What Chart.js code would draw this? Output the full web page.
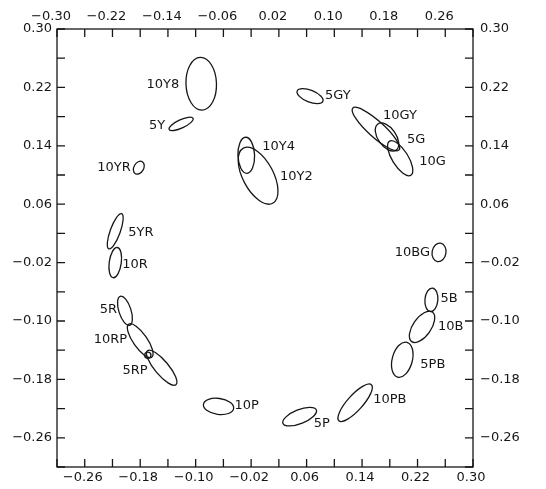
<!DOCTYPE html>
<html>
<head>
<meta charset="utf-8">
<script src="https://cdn.jsdelivr.net/npm/chart.js@4/dist/chart.umd.min.js"></script>
<style>
  html, body { margin: 0; padding: 0; background: #fff; }
  #wrap { width: 546px; height: 489px; }
</style>
</head>
<body>
<div id="wrap"><canvas id="myChart" width="546" height="489"></canvas></div>
<script>
// ellipse data (chromaticity units), one entry per ellipse
const names = ["10Y8", "5Y", "10YR", "10Y4", "10Y2", "5GY", "10GY", "5G", "10G", "10BG", "5B",
  "10B", "5PB", "10PB", "5P", "10P", "5RP", "10RP", "5R", "10R", "5YR", ""];
const centerX = [-0.092, -0.121, -0.182, -0.027, -0.010, 0.065, 0.160, 0.176, 0.195, 0.251, 0.240,
  0.2265, 0.198, 0.130, 0.050, -0.067, -0.149, -0.180, -0.202, -0.216, -0.216, -0.169];
const centerY = [0.225, 0.170, 0.110, 0.127, 0.099, 0.208, 0.163, 0.152, 0.123, -0.006, -0.071,
  -0.108, -0.153, -0.212, -0.231, -0.217, -0.164, -0.127, -0.086, -0.020, 0.023, -0.147];
const semiMajor = [0.038, 0.019, 0.010, 0.026, 0.045, 0.020, 0.045, 0.023, 0.029, 0.0135, 0.017,
  0.026, 0.026, 0.035, 0.026, 0.022, 0.032, 0.029, 0.022, 0.022, 0.027, 0.0045];
const semiMinor = [0.022, 0.006, 0.007, 0.012, 0.022, 0.0085, 0.0115, 0.013, 0.0115, 0.010, 0.0093,
  0.013, 0.0145, 0.011, 0.010, 0.0115, 0.010, 0.010, 0.0087, 0.0087, 0.0072, 0.0045];
const tiltDeg = [92, 25, 60, 92, -62, -22, -42, -55, -58, 80, 85,
  55, 75, 48, 22, -8, -50, -55, -72, 82, 70, 0];

// axis ticks
const tickValues = [-0.30, -0.26, -0.22, -0.18, -0.14, -0.10, -0.06, -0.02,
  0.02, 0.06, 0.10, 0.14, 0.18, 0.22, 0.26, 0.30];
const bottomLabels = ["-0.26", "-0.18", "-0.10", "-0.02", "0.06", "0.14", "0.22", "0.30"];
const topLabels = ["-0.30", "-0.22", "-0.14", "-0.06", "0.02", "0.10", "0.18", "0.26"];
const sideLabels = ["0.30", "0.22", "0.14", "0.06", "-0.02", "-0.10", "-0.18", "-0.26"];

// label placement next to each ellipse: [dx px, dy px, align]
const labelOffsets = [[-22, 1, "right"], [-16, 2, "right"], [-8, 0, "right"], [16, -9, "left"],
  [22, 1, "left"], [15, -1, "left"], [7, -13, "left"], [20, 3, "left"], [19, 3, "left"],
  [-9, 0, "right"], [9, -1, "left"], [16, 0, "left"], [18, 5, "left"], [18, -3, "left"],
  [14, 7, "left"], [16, -1, "left"], [-14, 3, "right"], [-13, -1, "right"], [-8, -1, "right"],
  [7, 2, "left"], [13, 1, "left"], [0, 0, "left"]];

const INK = "#161616";
const FONT = "13px 'DejaVu Sans'";

const points = centerX.map((x, i) => ({ x: x, y: centerY[i] }));

function fmt(v) {
  const s = v.toFixed(2);
  return s === "-0.00" ? "0.00" : s;
}
function pretty(s) {
  return s.replace("-", "\u2212");
}
function labeler(list) {
  return function (value) {
    const s = fmt(value);
    return list.indexOf(s) >= 0 ? pretty(s) : "";
  };
}
function fixTicks(scale) {
  scale.ticks = tickValues.map((v) => ({ value: v }));
}

const ellipsePlugin = {
  id: "ellipses",
  afterDatasetsDraw(chart) {
    const ctx = chart.ctx;
    const xs = chart.scales.x;
    const meta = chart.getDatasetMeta(0);
    const unit = Math.abs(xs.getPixelForValue(1) - xs.getPixelForValue(0));
    ctx.save();
    ctx.strokeStyle = INK;
    ctx.lineWidth = 1.3;
    meta.data.forEach((pt, i) => {
      ctx.beginPath();
      ctx.ellipse(pt.x, pt.y, semiMajor[i] * unit, semiMinor[i] * unit,
        -tiltDeg[i] * Math.PI / 180, 0, Math.PI * 2);
      ctx.stroke();
    });
    ctx.fillStyle = INK;
    ctx.font = FONT;
    ctx.textBaseline = "middle";
    meta.data.forEach((pt, i) => {
      if (!names[i]) return;
      const off = labelOffsets[i];
      ctx.textAlign = off[2];
      ctx.fillText(names[i], pt.x + off[0], pt.y + off[1]);
    });
    ctx.restore();
  },
  afterDraw(chart) {
    // frame with inward tick marks
    const ctx = chart.ctx;
    const a = chart.chartArea;
    const len = 8;
    ctx.save();
    ctx.strokeStyle = INK;
    ctx.lineWidth = 1.3;
    ctx.strokeRect(a.left, a.top, a.right - a.left, a.bottom - a.top);
    ctx.beginPath();
    tickValues.forEach((v) => {
      const px = chart.scales.x.getPixelForValue(v);
      const py = chart.scales.y.getPixelForValue(v);
      ctx.moveTo(px, a.bottom); ctx.lineTo(px, a.bottom - len);
      ctx.moveTo(px, a.top); ctx.lineTo(px, a.top + len);
      ctx.moveTo(a.left, py); ctx.lineTo(a.left + len, py);
      ctx.moveTo(a.right, py); ctx.lineTo(a.right - len, py);
    });
    ctx.stroke();
    ctx.restore();
  }
};

const tickFont = { family: "'DejaVu Sans'", size: 13 };
const noGrid = { display: false, drawTicks: false };

const config = {
  type: "scatter",
  data: {
    datasets: [
      {
        label: "ellipses",
        data: points,
        pointRadius: 0,
        pointHoverRadius: 0,
      },
    ],
  },
  options: {
    responsive: false,
    animation: false,
    events: [],
    layout: { padding: 0 },
    plugins: { legend: { display: false }, tooltip: { enabled: false } },
    scales: {
      x: {
        type: "linear", position: "bottom", min: -0.30, max: 0.30,
        grid: noGrid, border: { display: false },
        afterBuildTicks: fixTicks,
        afterFit: (s) => { s.height = 22; },
        ticks: { autoSkip: false, maxRotation: 0, padding: 3, labelOffset: -2, color: INK, font: tickFont, callback: labeler(bottomLabels) },
      },
      x2: {
        type: "linear", position: "top", min: -0.30, max: 0.30,
        grid: noGrid, border: { display: false },
        afterBuildTicks: fixTicks,
        afterFit: (s) => { s.height = 29; },
        ticks: { autoSkip: false, maxRotation: 0, padding: 5, labelOffset: -6, color: INK, font: tickFont, callback: labeler(topLabels) },
      },
      y: {
        type: "linear", position: "left", min: -0.30, max: 0.30,
        grid: noGrid, border: { display: false },
        afterBuildTicks: fixTicks,
        afterFit: (s) => { s.width = 57; },
        ticks: { autoSkip: false, padding: 5, color: INK, font: tickFont, callback: labeler(sideLabels) },
      },
      y2: {
        type: "linear", position: "right", min: -0.30, max: 0.30,
        grid: noGrid, border: { display: false },
        afterBuildTicks: fixTicks,
        afterFit: (s) => { s.width = 73; },
        ticks: { autoSkip: false, padding: 7, color: INK, font: tickFont, callback: labeler(sideLabels) },
      },
    },
  },
  plugins: [ellipsePlugin],
};

const myChart = new Chart(document.getElementById("myChart"), config);
</script>
</body>
</html>
